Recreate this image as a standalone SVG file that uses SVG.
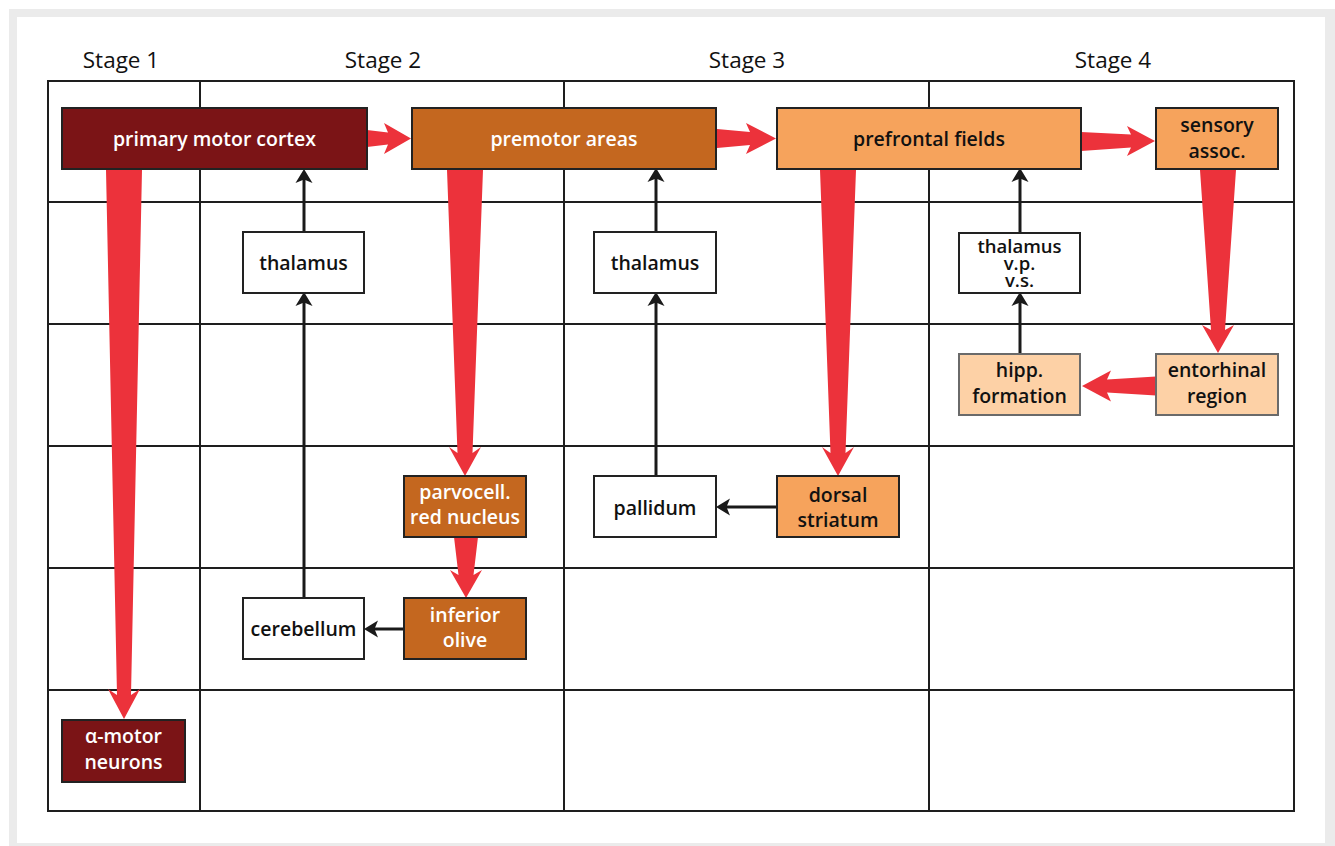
<svg xmlns="http://www.w3.org/2000/svg" width="1335" height="846" viewBox="0 0 1335 846">
<defs>
<style>
.grid{fill:none;stroke:#1e1e1e;stroke-width:2}
.box{stroke:#222;stroke-width:2}
.lt{stroke:#6a6a6a;stroke-width:2}
.red{fill:#ec323b}
.blk{stroke:#1a1a1a;stroke-width:3;fill:none;marker-end:url(#ah)}
text{font-family:"Open Sans","Liberation Sans",sans-serif;font-size:19.5px;font-weight:600;text-anchor:middle}
.w{fill:#fff}
.k{fill:#111}
.tight{font-size:18.5px}
.stage{font-size:22.5px;font-weight:400;fill:#111}
</style>
<marker id="ah" markerUnits="userSpaceOnUse" markerWidth="20" markerHeight="20" refX="5" refY="9" orient="auto">
<path d="M0,0.5 L14,9 L0,17.5 L3.5,9 z" fill="#1a1a1a"/>
</marker>
</defs>
<rect x="0" y="0" width="1335" height="846" fill="#fff"/>
<rect x="9" y="9" width="1326" height="837" fill="#ebebeb"/>
<rect x="17" y="17" width="1308" height="826" fill="#fff"/>

<g id="stages">
<text class="stage" x="121" y="68">Stage 1</text>
<text class="stage" x="383" y="68">Stage 2</text>
<text class="stage" x="747" y="68">Stage 3</text>
<text class="stage" x="1113" y="68">Stage 4</text>
</g>

<g id="grid">
<rect class="grid" x="48" y="81" width="1246" height="730"/>
<path class="grid" d="M200,81V811M564,81V811M929,81V811M48,202H1294M48,324H1294M48,446H1294M48,568H1294M48,690H1294"/>
</g>

<g id="connectors">
<polygon class="red" points="106,170 142,170 131,695 140,689 124,719 108,689 117,695"/>
<polygon class="red" points="447,170 483,170 472.5,453 481,447 465,476 449,447 457.5,453"/>
<polygon class="red" points="454,537 478,537 473.5,575 482,570 466,598 450,570 458.5,575"/>
<polygon class="red" points="820,170 856,170 845.5,453 854,447 838,476 822,447 830.5,453"/>
<polygon class="red" points="1200,170 1236,170 1225,330 1234,325 1218,353 1202,325 1211,330"/>
<polygon class="red" points="367,130 388,132.5 384,123 411,138.5 384,154 388,144.5 367,147"/>
<polygon class="red" points="717,129 750,132 746,123 776,138.5 746,154 750,145 717,148"/>
<polygon class="red" points="1081,132 1131,134.5 1127,126 1155,141 1127,156 1131,147.5 1081,151"/>
<polygon class="red" points="1156,376.5 1107,379.5 1111,370.5 1082,386 1111,401.5 1107,392.5 1156,395.5"/>
<line class="blk" x1="304" y1="598" x2="304" y2="301"/>
<line class="blk" x1="304" y1="232" x2="304" y2="178"/>
<line class="blk" x1="656" y1="476" x2="656" y2="301"/>
<line class="blk" x1="656" y1="232" x2="656" y2="177"/>
<line class="blk" x1="1020" y1="354" x2="1020" y2="301"/>
<line class="blk" x1="1020" y1="233" x2="1020" y2="177"/>
<line class="blk" x1="777" y1="507" x2="725" y2="507"/>
<line class="blk" x1="404" y1="629" x2="373" y2="629"/>
</g>

<g id="primary-motor-cortex">
<rect class="box" x="62" y="108" width="305" height="61" fill="#7b1416"/>
<text class="w" x="214.5" y="146">primary motor cortex</text>
</g>
<g id="premotor-areas">
<rect class="box" x="412" y="108" width="304" height="61" fill="#c4671f"/>
<text class="w" x="564" y="146">premotor areas</text>
</g>
<g id="prefrontal-fields">
<rect class="box" x="777" y="108" width="304" height="61" fill="#f6a35c"/>
<text class="k" x="929" y="146">prefrontal fields</text>
</g>
<g id="sensory-assoc">
<rect class="box" x="1156" y="108" width="122" height="61" fill="#f6a35c"/>
<text class="k" x="1217" y="132">sensory<tspan x="1217" dy="26">assoc.</tspan></text>
</g>
<g id="thalamus-2">
<rect class="box" x="243" y="232" width="121" height="61" fill="#fff"/>
<text class="k" x="303.5" y="270">thalamus</text>
</g>
<g id="thalamus-3">
<rect class="box" x="594" y="232" width="122" height="61" fill="#fff"/>
<text class="k" x="655" y="270">thalamus</text>
</g>
<g id="thalamus-4">
<rect class="box" x="959" y="233" width="121" height="60" fill="#fff"/>
<text class="k tight" x="1019.5" y="253">thalamus<tspan x="1019.5" dy="17">v.p.</tspan><tspan x="1019.5" dy="17">v.s.</tspan></text>
</g>
<g id="hipp-formation">
<rect class="lt" x="959" y="354" width="121" height="61" fill="#fdd1a6"/>
<text class="k" x="1019.5" y="377">hipp.<tspan x="1019.5" dy="26">formation</tspan></text>
</g>
<g id="entorhinal-region">
<rect class="lt" x="1156" y="354" width="122" height="61" fill="#fdd1a6"/>
<text class="k" x="1217" y="377">entorhinal<tspan x="1217" dy="26">region</tspan></text>
</g>
<g id="parvocell-red-nucleus">
<rect class="box" x="404" y="476" width="122" height="61" fill="#c4671f"/>
<text class="w" x="465" y="499">parvocell.<tspan x="465" dy="25">red nucleus</tspan></text>
</g>
<g id="pallidum">
<rect class="box" x="594" y="476" width="122" height="61" fill="#fff"/>
<text class="k" x="655" y="515">pallidum</text>
</g>
<g id="dorsal-striatum">
<rect class="box" x="777" y="476" width="122" height="61" fill="#f6a35c"/>
<text class="k" x="838" y="502">dorsal<tspan x="838" dy="25">striatum</tspan></text>
</g>
<g id="cerebellum">
<rect class="box" x="243" y="598" width="121" height="61" fill="#fff"/>
<text class="k" x="303.5" y="636">cerebellum</text>
</g>
<g id="inferior-olive">
<rect class="box" x="404" y="598" width="122" height="61" fill="#c4671f"/>
<text class="w" x="465" y="622">inferior<tspan x="465" dy="25">olive</tspan></text>
</g>
<g id="alpha-motor-neurons">
<rect class="box" x="62" y="720" width="123" height="62" fill="#7b1416"/>
<text class="w" x="123.5" y="743">α-motor<tspan x="123.5" dy="26">neurons</tspan></text>
</g>
</svg>
